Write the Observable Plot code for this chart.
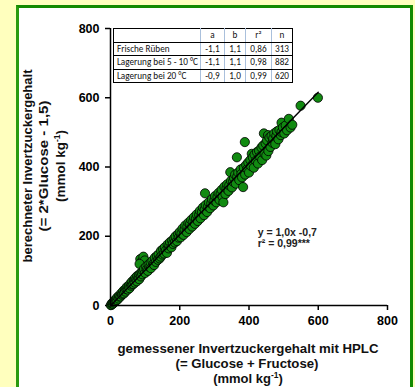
<!DOCTYPE html>
<html>
<head>
<meta charset="utf-8">
<script src="https://cdn.jsdelivr.net/npm/d3@7"></script>
<script src="https://cdn.jsdelivr.net/npm/@observablehq/plot@0.6"></script>
<style>
  html, body { margin: 0; padding: 0; }
  body { width: 415px; height: 387px; background: #ffffbe; position: relative; overflow: hidden; }
  #frame { position: absolute; left: 16px; top: 5px; width: 391px; height: 400px; background: #fff;
           border: 3px solid #138a00; border-left-color: #2a9a10; }
  #chart { position: absolute; left: 0; top: 0; }
  #tbl { position: absolute; left: 113px; top: 28px; border-collapse: collapse; font-family: Carlito, "Open Sans", sans-serif;
         font-size: 9.2px; color: #111; background: #fff; table-layout: fixed; }
  #tbl td { border-top: 1px solid #000; border-bottom: 1px solid #000; border-left: 1px solid #aac0dc; border-right: 1px solid #aac0dc;
            height: 12.5px; padding: 0 1px; text-align: center; line-height: 12px; white-space: nowrap; overflow: hidden; }
  #tbl td:first-child { text-align: left; border-left: 1px solid #000; padding-left: 3px; }
  #tbl td:last-child { border-right: 1px solid #000; }
</style>
</head>
<body>
<div id="frame"></div>
<div id="chart"></div>
<table id="tbl"></table>
<script>
// ---- data ----
const tickValues = [0, 200, 400, 600, 800];
const xTitle = ["gemessener Invertzuckergehalt mit HPLC", "(= Glucose + Fructose)", "(mmol kg", "-1", ")"];
const yTitle = ["berechneter Invertzuckergehalt", "(= 2*Glucose - 1,5)", "(mmol kg", "-1", ")"];
const tableHeader = ["", "a", "b", "r²", "n"];
const tableGroups = ["Frische Rüben", "Lagerung bei 5 - 10 °C", "Lagerung bei 20 °C"];
const tableA = ["-1,1", "-1,1", "-0,9"];
const tableB = ["1,1", "1,1", "1,0"];
const tableR2 = ["0,86", "0,98", "0,99"];
const tableN = ["313", "882", "620"];
const equationText = ["y = 1,0x -0,7", "r² = 0,99***"];
const equationPos = [{x: 425, y: 211}, {x: 425, y: 178}];
const regLineX = [0, 600];
const regLineY = [-0.7, 616];
const pairs = [
  [1,1],[3,2],[4,6],[7,5],[8,9],[11,9],[12,15],[15,13],[16,17],[19,16],[20,24],[23,20],[25,26],[26,29],[29,26],[31,35],[33,31],[35,34],[37,42],[39,35],[42,46],[43,40],[46,47],[47,53],[50,46],[52,55],[54,58],[55,50],[58,64],[60,57],[62,61],[63,70],[66,62],[68,73],[70,66],[71,79],[74,75],[76,70],[77,85],[80,79],[82,88],[83,76],[86,92],[88,84],[90,96],[92,90],
  [86,134],[90,127],[95,141],[99,130],[84,120],
  [95,100],[97,106],[100,94],[103,112],[105,104],[108,100],[110,118],[113,111],[116,124],[117,108],[121,129],[124,120],[126,117],[128,138],[131,126],[134,143],[137,132],[139,148],[142,136],[145,141],[146,158],[150,147],[152,163],[155,150],[157,168],[160,159],[163,152],[165,176],[168,165],[170,174],[172,183],[176,168],[178,187],[180,178],[184,194],[186,182],[188,200],[192,186],[195,206],[197,196],[200,212],[203,197],[205,208],[208,222],[211,204],[214,219],[216,231],[220,212],[222,228],[225,239],[228,221],[230,236],[233,247],[236,228],[239,243],[241,255],[244,236],[247,251],[249,263],[252,244],[256,262],[258,273],[260,252],[264,270],[267,283],[270,261],[273,324],[272,277],[275,290],[279,270],[282,286],[284,298],[288,281],[291,295],[293,307],[297,289],[300,303],[302,316],[306,298],[309,313],[312,325],[315,305],[318,322],[321,334],[324,314],[326,298],[329,343],[332,322],[335,338],[337,350],[341,331],[343,347],[346,385],[348,360],[351,341],[354,358],[357,368],[360,378],[362,352],[365,428],[366,372],[369,384],[372,362],[376,393],[378,380],[380,370],[383,342],[385,398],[388,472],[389,378],[392,406],[395,394],[398,413],[400,384],[404,420],[406,403],[408,438],[411,428],[414,398],[416,436],[420,418],[423,443],[426,410],[429,447],[432,430],[436,456],[438,420],[441,462],[443,497],[445,438],[448,468],[450,433],[452,477],[455,492],[456,446],[459,485],[462,458],[465,490],[468,470],[470,482],[473,497],[476,466],[479,490],[481,503],[485,480],[488,507],[492,492],[494,501],[494,528],[498,514],[502,497],[506,520],[510,506],[515,539],[520,514],[525,522],[549,577],[599,600]
];
const measured = pairs.map(p => p[0]);
const calculated = pairs.map(p => p[1]);

const points = measured.map((m, i) => ({m, c: calculated[i]}));
const regLine = regLineX.map((x, i) => ({x, y: regLineY[i]}));
const eq = equationText.map((t, i) => ({t, ...equationPos[i]}));

const font = "'Liberation Sans', Arial, sans-serif";
const plot = Plot.plot({
  width: 415,
  height: 387,
  marginLeft: 110,
  marginRight: 28,
  marginTop: 28,
  marginBottom: 82,
  style: {background: "transparent", fontFamily: font, fontSize: "12.5px", fontWeight: "bold", color: "#000"},
  x: {domain: [0, 800], ticks: tickValues, tickSize: 5, tickPadding: 6, label: null},
  y: {domain: [0, 800], ticks: tickValues, tickSize: 5, tickPadding: 6, label: null},
  marks: [
    Plot.dot(points, {x: "m", y: "c", r: 4.6, fill: "#118a11", stroke: "#000", strokeWidth: 0.8}),
    Plot.line(regLine, {x: "x", y: "y", stroke: "#000", strokeWidth: 1.4}),
    Plot.ruleX([0], {stroke: "#000", strokeWidth: 1.5}),
    Plot.ruleY([0], {stroke: "#000", strokeWidth: 1.5}),
    Plot.text(eq, {x: "x", y: "y", text: "t", textAnchor: "start", fontSize: 10.5, fontWeight: "bold", fill: "#222"})
  ]
});
document.getElementById("chart").appendChild(plot);

const svg = d3.select(plot);
svg.selectAll("g[aria-label$='tick'] path, g[aria-label$='tick'] line").attr("stroke-width", 1.5);

// x title
const xt = svg.append("g").attr("font-family", font).attr("font-weight", "bold").attr("font-size", 12).attr("text-anchor", "middle").attr("fill", "#111");
xt.append("text").attr("x", 248).attr("y", 353).attr("textLength", 261).attr("lengthAdjust", "spacingAndGlyphs").text(xTitle[0]);
xt.append("text").attr("x", 247).attr("y", 368).attr("textLength", 143).attr("lengthAdjust", "spacingAndGlyphs").text(xTitle[1]);
const x3 = xt.append("text").attr("x", 248).attr("y", 383).attr("font-size", 13);
x3.append("tspan").text(xTitle[2]);
x3.append("tspan").attr("dy", -5).attr("font-size", 8.5).text(xTitle[3]);
x3.append("tspan").attr("dy", 5).text(xTitle[4]);

// y title
const yt = svg.append("g").attr("font-family", font).attr("font-weight", "bold").attr("font-size", 12).attr("text-anchor", "middle").attr("fill", "#111")
  .attr("transform", "translate(0,166) rotate(-90)");
yt.append("text").attr("x", 0).attr("y", 32).attr("textLength", 193).attr("lengthAdjust", "spacingAndGlyphs").text(yTitle[0]);
yt.append("text").attr("x", 0).attr("y", 48).attr("textLength", 131).attr("lengthAdjust", "spacingAndGlyphs").text(yTitle[1]);
const y3 = yt.append("text").attr("x", 0).attr("y", 65).attr("font-size", 13.5);
y3.append("tspan").text(yTitle[2]);
y3.append("tspan").attr("dy", -5).attr("font-size", 8.5).text(yTitle[3]);
y3.append("tspan").attr("dy", 5).text(yTitle[4]);

// table
const tbl = d3.select("#tbl");
const widths = [86, 23, 20, 25, 20];
const rows = [tableHeader].concat(tableGroups.map((g, i) => [g, tableA[i], tableB[i], tableR2[i], tableN[i]]));
rows.forEach(r => {
  const tr = tbl.append("tr");
  r.forEach((v, j) => tr.append("td").style("width", (widths[j] - (j === 0 ? 4 : 2)) + "px").style("max-width", (widths[j] - (j === 0 ? 4 : 2)) + "px").text(v));
});
</script>
</body>
</html>
